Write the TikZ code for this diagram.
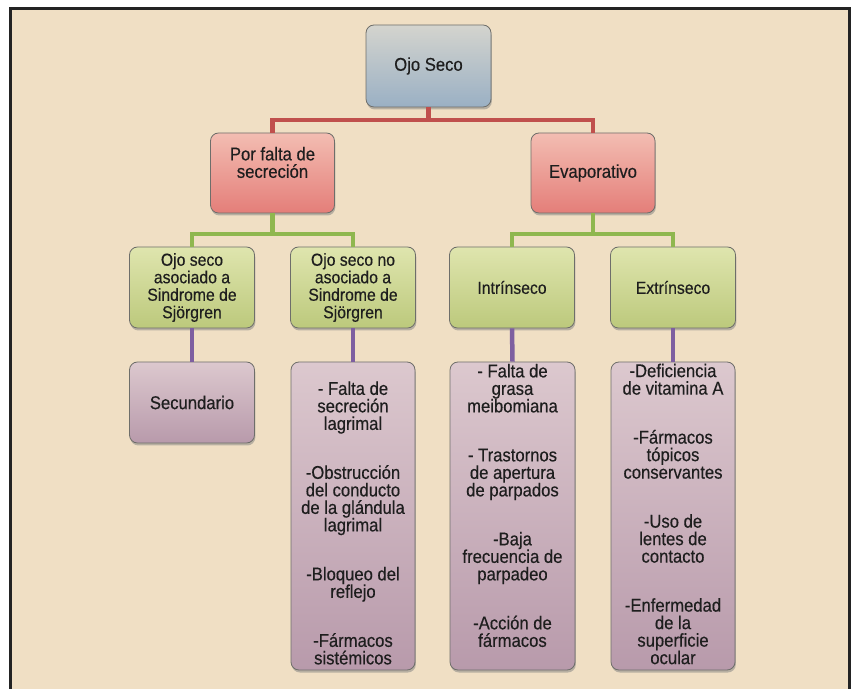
\documentclass[tikz,border=0pt]{standalone}
\usepackage{fontspec}
\setmainfont{Liberation Sans}[FakeStretch=0.9, FakeBold=0.35]
\usetikzlibrary{shadows}
\definecolor{bgbeige}{HTML}{F0DFC4}
\definecolor{framecol}{HTML}{232323}
\definecolor{boxborder}{HTML}{6E6E6A}
\definecolor{txtcol}{HTML}{1E1E1E}
\definecolor{ojtop}{HTML}{D4D4CE}
\definecolor{ojbot}{HTML}{9AB0C4}
\definecolor{rtop}{HTML}{F3BDB2}
\definecolor{rbot}{HTML}{E47E79}
\definecolor{gtop}{HTML}{DFE5AE}
\definecolor{gbot}{HTML}{BCC97C}
\definecolor{ptop}{HTML}{DCC8CE}
\definecolor{pbot}{HTML}{B89AAB}
\definecolor{conred}{HTML}{C0504D}
\definecolor{congreen}{HTML}{8FB74F}
\definecolor{conpurple}{HTML}{7E5FA0}
\begin{document}
\begin{tikzpicture}[x=1pt,y=1pt,
  box/.style={draw=boxborder, line width=0.8pt, rounded corners=8pt,
    minimum width=125pt, inner sep=0pt, align=center,
    font=\fontsize{18.5}{17.5}\selectfont, text=txtcol,
    drop shadow={shadow xshift=0.8pt, shadow yshift=-2.5pt, opacity=0.5}},
  topbox/.style={box, top color=ojtop, bottom color=ojbot, minimum height=82pt},
  redbox/.style={box, top color=rtop, bottom color=rbot, minimum width=124pt, minimum height=80pt},
  grbox/.style={box, top color=gtop, bottom color=gbot, minimum height=81pt,
    font=\fontsize{17.5}{17.5}\selectfont},
  pubox/.style={box, top color=ptop, bottom color=pbot},
  txt/.style={align=center, font=\fontsize{18.5}{17.5}\selectfont, text=txtcol, inner sep=0pt},
  redcon/.style={draw=conred, line width=4.5pt},
  grcon/.style={draw=congreen, line width=4.5pt},
  pucon/.style={draw=conpurple, line width=4.5pt}
]
\path[use as bounding box, fill=white] (0,0) rectangle (853,688);
\fill[bgbeige] (10.5,-5) rectangle (849.5,679.5);
\draw[framecol, line width=3pt] (10.5,-5) -- (10.5,679.5) -- (849.5,679.5) -- (849.5,-5);

% level 0
\node[topbox] (oj) at (428.5,622) {Ojo Seco};
% level 1
\node[redbox] (pf) at (272.5,515) {};
\node[txt] (pft) at (272.5,525.5) {Por falta de\\secreción};
\node[redbox] (ev) at (593,515) {Evaporativo};
% level 2
\node[grbox] (g1) at (192,400.5) {Ojo seco\\asociado a\\Sindrome de\\Sjörgren};
\node[grbox] (g2) at (353,400.5) {Ojo seco no\\asociado a\\Sindrome de\\Sjörgren};
\node[grbox] (g3) at (512,400.5) {Intrínseco};
\node[grbox] (g4) at (673,400.5) {Extrínseco};
% level 3
\node[pubox, minimum height=81pt] (s1) at (192,285.5) {Secundario};
\node[pubox, minimum width=124pt, minimum height=308pt] (p2) at (353,172) {};
\node[txt] (p2t) at (353,165) {- Falta de\\secreción\\lagrimal\\[31.5pt]-Obstrucción\\del conducto\\de la glándula\\lagrimal\\[31.5pt]-Bloqueo del\\reflejo\\[31.5pt]-Fármacos\\sistémicos};
\node[pubox, minimum height=308pt] (p3) at (512.5,172) {};
\node[txt] (p3t) at (512.5,182.5) {- Falta de\\grasa\\meibomiana\\[31.5pt]- Trastornos\\de apertura\\de parpados\\[31.5pt]-Baja\\frecuencia de\\parpadeo\\[31.5pt]-Acción de\\fármacos};
\node[pubox, minimum width=124pt, minimum height=308pt] (p4) at (673,172) {};
\node[txt] (p4t) at (673,174) {-Deficiencia\\de vitamina A\\[31.5pt]-Fármacos\\tópicos\\conservantes\\[31.5pt]-Uso de\\lentes de\\contacto\\[31.5pt]-Enfermedad\\de la\\superficie\\ocular};

% connectors
\coordinate (rj) at (428.5,568);
\coordinate (gj1) at (272.5,454);
\coordinate (gj2) at (593,454);
\draw[redcon] (oj.south) -- (rj);
\draw[redcon] (pf.north) |- (ev.north |- rj) -- (ev.north);
\draw[grcon] (pf.south) -- (gj1);
\draw[grcon] (g1.north) |- (g2.north |- gj1) -- (g2.north);
\draw[grcon] (ev.south) -- (gj2);
\draw[grcon] (g3.north) |- (g4.north |- gj2) -- (g4.north);
\draw[pucon] (g1.south) -- (s1.north);
\draw[pucon] (g2.south) -- (p2.north);
\draw[pucon] (g3.south) -- (p3.north);
\draw[pucon] (g4.south) -- (p4.north);
\end{tikzpicture}
\end{document}
